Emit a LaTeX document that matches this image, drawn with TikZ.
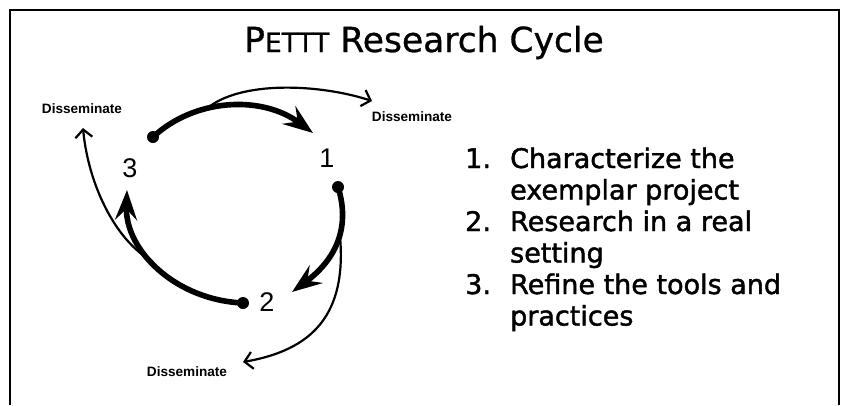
\documentclass[tikz,border=0pt]{standalone}
\usepackage{fontspec}
\setmainfont{DejaVu Sans}
\newfontfamily\helv{Liberation Sans}
\newfontfamily\listfont[FakeBold=1.6]{DejaVu Sans}
\newfontfamily\titlefont[FakeBold=0.8]{DejaVu Sans}
\usetikzlibrary{arrows.meta}
\begin{document}
\begin{tikzpicture}[x=1pt,y=-1pt,
  frame/.style={line width=1.8pt},
  dot/.style={circle,fill=black,inner sep=0pt,minimum size=12pt},
  num/.style={inner sep=0pt,font=\helv\fontsize{27}{27}\selectfont},
  diss/.style={inner sep=0pt,font=\helv\bfseries\fontsize{13.6}{14}\selectfont},
  cycle/.style={line width=5.6pt,-{Stealth[length=30pt,width=22pt,inset=11pt]}},
  spread/.style={line width=2.2pt,-{Straight Barb[length=8pt,width=17pt,line width=2.2pt]}}]
\useasboundingbox (0,0) rectangle (843,405);

% open frame
\draw[frame] (10,405) -- (10,10) -- (839,10) -- (839,405);

% title
\node[anchor=base,inner sep=0pt] (title) at (424,52)
  {\titlefont\fontsize{34.5}{40}\selectfont P{\fontsize{26.5}{30}\selectfont ETTT} Research Cycle};

% stage markers and labels
\node[dot] (d3) at (153,137) {};
\node[dot] (d1) at (338,187) {};
\node[dot] (d2) at (243,303) {};
\node[num] (n3) at (130,168) {3};
\node[num] (n1) at (327,158) {1};
\node[num] (n2) at (267,302) {2};
\coordinate (t1) at (313,133);
\coordinate (t2) at (292,292);
\coordinate (t3) at (127,190);

\node[diss] (dtl) at (82,109) {Disseminate};
\node[diss] (dtr) at (412,117) {Disseminate};
\node[diss] (dbm) at (187,372) {Disseminate};
\coordinate (e3) at (83,128);
\coordinate (e1) at (372,101);
\coordinate (e2) at (243,362);

% main cycle
\draw[cycle] (d3.center) .. controls (195,98) and (262,95) .. (t1) coordinate[pos=0.36] (b1);
\draw[cycle] (d1.center) .. controls (350,225) and (338,258) .. (t2) coordinate[pos=0.42] (b2);
\draw[cycle] (d2.center) .. controls (175,300) and (125,250) .. (t3) coordinate[pos=0.55] (b3);

% dissemination branches
\draw[spread] (b1) .. controls (240,80) and (320,84) .. (e1);
\draw[spread] (b2) .. controls (348,315) and (312,350) .. (e2);
\draw[spread] (b3) .. controls (114,240) and (88,182) .. (e3);

% list of stages
\node[anchor=base west,inner sep=0pt] (steps) at (465,168)
  {\listfont\fontsize{27}{31.5}\selectfont
   \begin{tabular}[t]{@{}l@{\hspace{19.2pt}}l@{}}
   1. & Characterize the\\
      & exemplar project\\
   2. & Research in a real\\
      & setting\\
   3. & Refine the tools and\\
      & practices
   \end{tabular}};
\end{tikzpicture}
\end{document}
